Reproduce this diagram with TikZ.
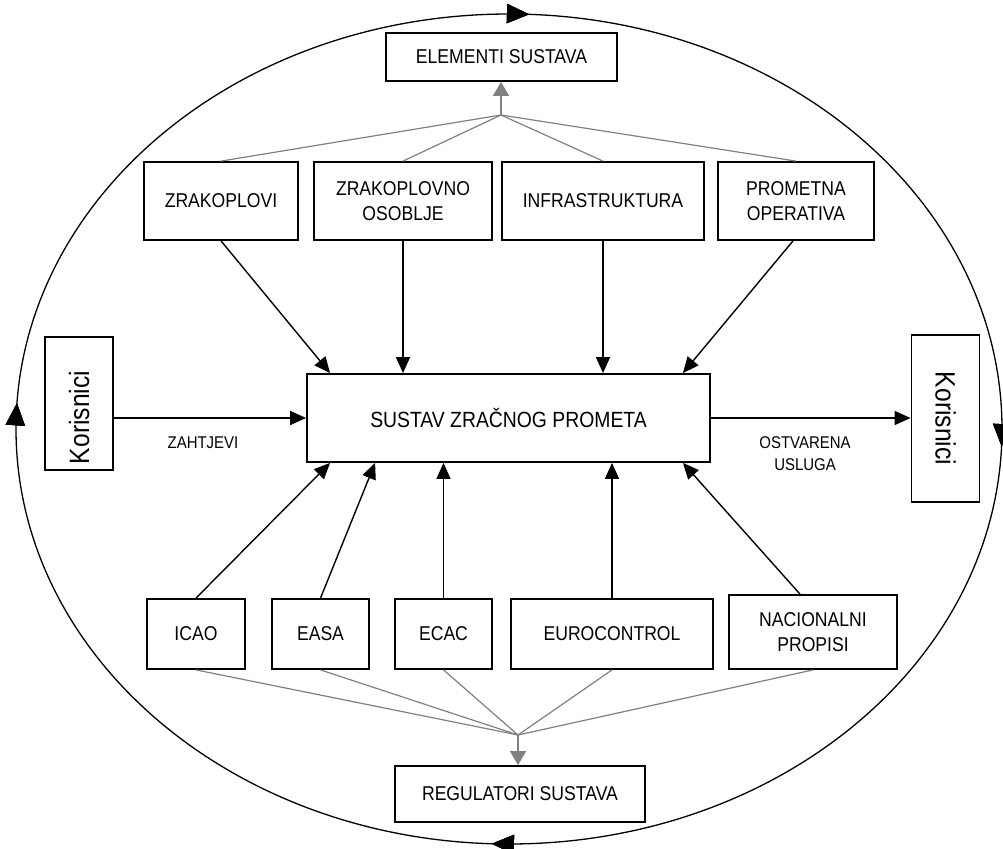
\documentclass[tikz,border=0pt]{standalone}
\usepackage{graphicx}
\usepackage{fontspec}
\setmainfont{Liberation Sans}[FakeStretch=0.88]
\usetikzlibrary{arrows.meta,decorations.markings}

\begin{document}
\begin{tikzpicture}[x=1pt, y=-1pt, >={Triangle[length=16pt,width=14pt]},
  every block/.style={draw, line width=1.8pt, align=center, inner sep=2pt,
    font=\fontsize{20}{25}\selectfont},
  feeds/.style={->, line width=1.4pt},
  gray link/.style={draw=black!50, line width=1.2pt},
  gray feed/.style={gray link, -{Triangle[length=14pt,width=16pt]}},
  small label/.style={align=center, font=\fontsize{17}{22}\selectfont},
  loop tip/.style={decoration={markings, mark=at position #1 with
    {\arrow{Triangle[length=22pt,width=19pt]}}}, postaction={decorate}}]
\useasboundingbox (0,0) rectangle (1003,848);

% Draw the system boundary
\draw[line width=1.3pt, loop tip=0.006, loop tip=0.256, loop tip=0.509, loop tip=0.757]
  (509,429) ellipse [x radius=493, y radius=415];

% Draw central node and outer nodes
\node [every block, minimum width=403pt, minimum height=88pt,
  font=\fontsize{22}{26}\selectfont] (sustav) at (508.5,418) {SUSTAV ZRAČNOG PROMETA};
\node [every block, minimum width=231pt, minimum height=48pt] (elem) at (501.5,57) {ELEMENTI SUSTAVA};
\node [every block, minimum width=250pt, minimum height=56pt] (reg) at (520,794) {REGULATORI SUSTAVA};

% Draw user nodes
\foreach \n/\x/\y/\h/\r/\s in {korL/79/403.5/133/90/28, korR/945.5/418.5/167/-90/0}
  \node [every block, minimum width=68pt, minimum height=\h pt,
    font=\fontsize{28}{30}\selectfont] (\n) at (\x,\y) {\rotatebox{\r}{Korisnici\hspace*{\s pt}}};

% Draw element nodes
\foreach \n/\x/\w/\t in {zrak/221/154/ZRAKOPLOVI, osob/403/178/{ZRAKOPLOVNO\\OSOBLJE},
    infra/603/202/INFRASTRUKTURA, prom/796/156/{PROMETNA\\OPERATIVA}}
  \node [every block, minimum width=\w pt, minimum height=78pt] (\n) at (\x,201) {\t};

% Draw regulator nodes
\foreach \n/\x/\y/\w/\h/\t in {icao/196/634/98/70/ICAO, easa/320.5/634/97/70/EASA,
    ecac/443.5/634/97/70/ECAC, euro/612/634/202/70/EUROCONTROL,
    nac/813/632/168/74/{NACIONALNI\\PROPISI}}
  \node [every block, minimum width=\w pt, minimum height=\h pt] (\n) at (\x,\y) {\t};

% Gather elements and regulators
\coordinate (elem-hub) at (501,115);
\coordinate (reg-hub) at (518,735);
\foreach \n in {zrak,osob,infra,prom}
  \draw [gray link] (\n.north) -- (elem-hub);
\foreach \n in {icao,easa,ecac,euro,nac}
  \draw [gray link] (\n.south) -- (reg-hub);
\draw [gray feed] (elem-hub) -- (elem-hub |- elem.south);
\draw [gray feed] (reg-hub) -- (reg-hub |- reg.north);

% Connect elements with the system
\coordinate (in-zrak) at ([xshift=24pt]sustav.north west);
\coordinate (in-prom) at ([xshift=-28pt]sustav.north east);
\draw [feeds] (zrak.south) -- (in-zrak);
\draw [feeds] (osob.south) -- (osob.south |- sustav.north);
\draw [feeds] (infra.south) -- (infra.south |- sustav.north);
\draw [feeds] ([xshift=-3pt]prom.south) -- (in-prom);

% Connect regulators with the system
\coordinate (in-icao) at ([xshift=24pt]sustav.south west);
\coordinate (in-easa) at ([xshift=69pt]sustav.south west);
\coordinate (in-nac) at ([xshift=-28pt]sustav.south east);
\draw [feeds] (icao.north) -- (in-icao);
\draw [feeds] (easa.north) -- (in-easa);
\draw [feeds] (ecac.north) -- (ecac.north |- sustav.south);
\draw [feeds] (euro.north) -- (euro.north |- sustav.south);
\draw [feeds] ([xshift=-13pt]nac.north) -- (in-nac);

% Requests in, service out
\draw [feeds] (korL.east |- sustav.west) -- (sustav.west);
\draw [feeds] (sustav.east) -- (korR.west |- sustav.east);
\node [small label] (zahtjevi) at (203,443) {ZAHTJEVI};
\node [small label] (usluga) at (805,454) {OSTVARENA\\USLUGA};
\end{tikzpicture}
\end{document}
